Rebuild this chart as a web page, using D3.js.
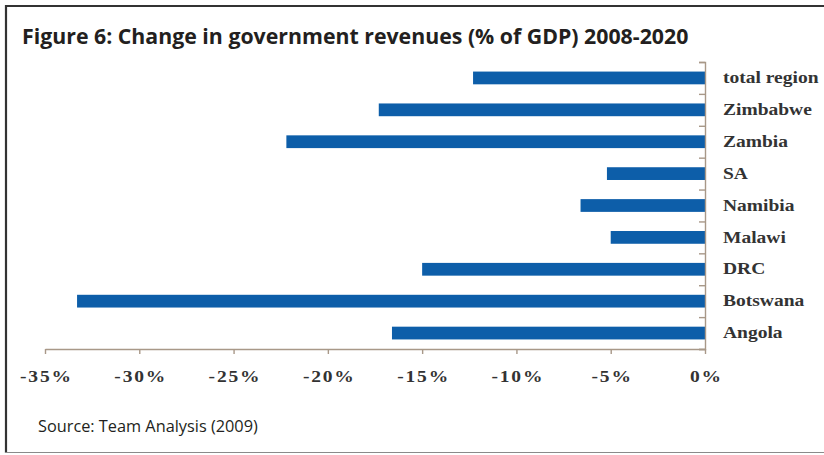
<!DOCTYPE html>
<html lang="en">

<head>
  <meta charset="UTF-8">
  <script src="https://cdn.jsdelivr.net/npm/d3@7"></script>
  <title>Figure 6</title>
  <style>
    body {
      margin: 0;
      background: #fff;
    }

    .title {
      font-family: "Open Sans", sans-serif;
      font-weight: 700;
      fill: #231f20;
    }

    .source {
      font-family: "Open Sans", sans-serif;
      fill: #231f20;
    }

    .axis text {
      font-family: "Liberation Serif", "Times New Roman", serif;
      font-weight: bold;
      fill: #333;
    }

    .axis path,
    .axis line {
      stroke: #a89888;
      stroke-width: 1.4px;
    }
  </style>
</head>

<body>
  <div class="fig"></div>

  <script>
    /*------------------- data --------------------*/
    // countries, listed from the bottom of the chart to the top
    const countries = ["Angola", "Botswana", "DRC", "Malawi", "Namibia", "SA", "Zambia", "Zimbabwe", "total region"];
    // change in revenues, % of GDP
    const changes = [-16.6, -33.3, -15.0, -5.0, -6.6, -5.2, -22.2, -17.3, -12.3];
    // x axis ticks
    const xTicks = [-35, -30, -25, -20, -15, -10, -5, 0];

    const titleText = "Figure 6: Change in government revenues (% of GDP) 2008-2020";
    const sourceText = "Source: Team Analysis (2009)";

    /*------------------- window --------------------*/
    const width = 824;
    const height = 455;

    const svg = d3.select(".fig").append("svg")
      .attr("width", width)
      .attr("height", height);

    // frame of the figure
    svg.append("line").attr("x1", 5).attr("y1", 6).attr("x2", width).attr("y2", 6)
      .attr("stroke", "#333").attr("stroke-width", 2.2);
    svg.append("line").attr("x1", 6).attr("y1", 5).attr("x2", 6).attr("y2", 453)
      .attr("stroke", "#333").attr("stroke-width", 2.2);
    svg.append("line").attr("x1", 5).attr("y1", 452.5).attr("x2", width).attr("y2", 452.5)
      .attr("stroke", "#8a8a8a").attr("stroke-width", 1);

    // size a text so that it spans the wanted width
    const fitText = (sel, size, wanted) => {
      sel.style("font-size", size + "px");
      const w = sel.node().getComputedTextLength();
      sel.style("font-size", (size * wanted / w) + "px");
    };

    const title = svg.append("text").attr("class", "title")
      .attr("x", 22).attr("y", 44)
      .text(titleText);
    fitText(title, 20, 667);

    const source = svg.append("text").attr("class", "source")
      .attr("x", 38).attr("y", 432)
      .text(sourceText);
    fitText(source, 15, 220);

    /*------------------- scales --------------------*/
    const plot = { left: 45, right: 705, top: 62, bottom: 349 };

    const x = d3.scaleLinear()
      .domain([-35, 0])
      .range([plot.left, plot.right]);

    const y = d3.scaleBand()
      .domain(countries.slice().reverse())
      .range([plot.top, plot.bottom])
      .paddingInner(0.6)
      .paddingOuter(0.3);

    // boundaries between categories, for the tick marks
    const yEdge = d3.scaleLinear()
      .domain([0, countries.length])
      .range([plot.bottom, plot.top]);

    const data = countries.map((c, i) => ({ country: c, value: changes[i] }));

    /*------------------- bars --------------------*/
    svg.selectAll("rect.bar")
      .data(data)
      .enter()
      .append("rect")
      .attr("class", "bar")
      .attr("x", d => x(d.value))
      .attr("y", d => y(d.country))
      .attr("width", d => x(0) - x(d.value))
      .attr("height", y.bandwidth())
      .attr("fill", "#0d5ea9");

    /*------------------- axes --------------------*/
    const stretch = 1.22; // the labels in the original are a bit wide

    const xAxis = svg.append("g").attr("class", "axis")
      .attr("transform", `translate(0,${plot.bottom})`)
      .call(d3.axisBottom(x)
        .tickValues(xTicks)
        .tickSize(5)
        .tickSizeOuter(0)
        .tickPadding(17)
        .tickFormat(d => d + "%"));
    xAxis.selectAll("text")
      .style("font-size", "16px")
      .style("letter-spacing", "1.5px")
      .attr("x", 0.75)
      .attr("transform", `scale(${stretch},1)`);

    // vertical line with ticks between the bars
    svg.append("g").attr("class", "axis")
      .attr("transform", `translate(${plot.right},0)`)
      .call(d3.axisLeft(yEdge)
        .tickValues(d3.range(0, countries.length + 1))
        .tickSize(6)
        .tickSizeOuter(6)
        .tickFormat(""));

    // country names right of the line
    const yAxis = svg.append("g").attr("class", "axis")
      .attr("transform", `translate(${plot.right},0)`)
      .call(d3.axisRight(y)
        .tickSize(0)
        .tickPadding(0));
    yAxis.select(".domain").remove();
    yAxis.selectAll("text")
      .style("font-size", "16px")
      .attr("x", 18 / stretch)
      .attr("transform", `scale(${stretch},1)`);
  </script>
</body>

</html>
